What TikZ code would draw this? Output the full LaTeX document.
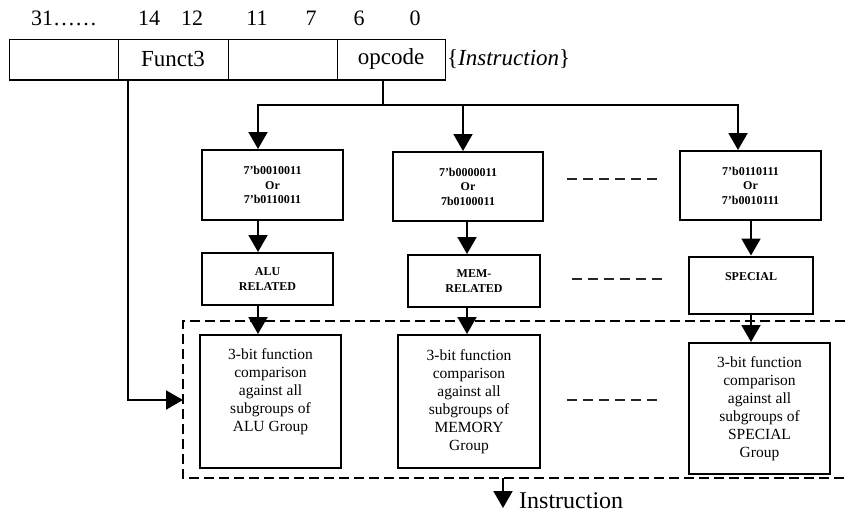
\documentclass[tikz,border=0pt]{standalone}
\usepackage{fontspec}
\setmainfont{Liberation Serif}
\usetikzlibrary{arrows.meta}
\begin{document}
\begin{tikzpicture}[x=1pt,y=-1pt,
  cell/.style={draw, line width=1pt, inner sep=0pt, minimum height=40pt,
    font=\fontsize{23}{27}\selectfont},
  bitlabel/.style={anchor=base, inner sep=0pt, font=\fontsize{22}{26}\selectfont},
  codebox/.style={draw, line width=2pt, inner sep=0pt, align=center,
    font=\fontsize{12}{14.6}\selectfont\bfseries},
  funcbox/.style={draw, line width=2pt, inner sep=0pt, align=center,
    minimum width=141pt, font=\fontsize{15.5}{18}\selectfont},
  wire/.style={line width=2pt},
  conn/.style={line width=2pt, -{Triangle[length=17pt,width=19pt]}},
  sep/.style={line width=1.8pt, draw=black!85, dash pattern=on 10pt off 6pt},
  grp/.style={line width=2pt, dash pattern=on 10pt off 5pt}
]
\useasboundingbox (0,0) rectangle (845,514);

% bit positions
\node[bitlabel] (b31) at (64,25) {31……};
\node[bitlabel] (b14) at (149,25) {14};
\node[bitlabel] (b12) at (192,25) {12};
\node[bitlabel] (b11) at (257,25) {11};
\node[bitlabel] (b7)  at (311,25) {7};
\node[bitlabel] (b6)  at (359,25) {6};
\node[bitlabel] (b0)  at (415,25) {0};

% instruction word
\node[cell, minimum width=109pt] (c31) at (63.5,59) {};
\node[cell, minimum width=110pt] (cf3) at (173,59) {Funct3};
\node[cell, minimum width=109pt] (c117) at (282.5,59) {};
\node[cell, minimum width=108pt] (cop) at (391,59) {opcode};
\draw[line width=2pt] (c31.south west) -- (cop.south east);
\node[anchor=west, inner sep=0pt, font=\fontsize{23}{27}\selectfont]
  (instr) at (447,59) {\{\textit{Instruction}\}};

% opcode match boxes
\node[codebox, minimum width=141pt, minimum height=70pt] (a1) at (272.5,185)
  {7’b0010011\\Or\\7’b0110011};
\node[codebox, minimum width=150pt, minimum height=69pt] (b1) at (468,186.5)
  {7’b0000011\\Or\\7b0100011};
\node[codebox, minimum width=141pt, minimum height=69pt] (c1) at (750.5,185.5)
  {7’b0110111\\Or\\7’b0010111};

% instruction groups
\node[codebox, minimum width=131pt, minimum height=52pt] (a2) at (267.5,279)
  {ALU\\RELATED};
\node[codebox, minimum width=132pt, minimum height=52pt] (b2) at (474,281)
  {MEM-\\RELATED};
\node[codebox, minimum width=124pt, minimum height=57pt] (c2) at (751,285)
  {SPECIAL\\[-3pt] \strut};

% funct3 comparison boxes
\node[funcbox, minimum height=133pt] (a3) at (270.5,401.5)
  {3-bit function\\comparison\\against all\\subgroups of\\ALU Group\\ \strut};
\node[funcbox, minimum width=142pt, minimum height=133pt] (b3) at (469,401.5)
  {3-bit function\\comparison\\against all\\subgroups of\\MEMORY\\Group};
\node[funcbox, minimum height=131pt] (c3) at (759.5,408.5)
  {3-bit function\\comparison\\against all\\subgroups of\\SPECIAL\\Group};

% column positions of the vertical connectors
\coordinate (ax) at (258,0);
\coordinate (bx1) at (463,0);
\coordinate (bx) at (467,0);
\coordinate (cx1) at (738,0);
\coordinate (cx) at (751,0);

% opcode fan-out
\coordinate (opout) at (383,79);
\coordinate (br) at (383,105);
\draw[wire] (opout) -- (br);
\draw[conn] (br) -| (a1.north -| ax);
\draw[conn] (br) -| (b1.north -| bx1);
\draw[conn] (br) -| (c1.north -| cx1);

% group selection
\draw[conn] (a1.south -| ax) -- (a2.north -| ax);
\draw[conn] (b1.south -| bx) -- (b2.north -| bx);
\draw[conn] (c1.south -| cx) -- (c2.north -| cx);
\draw[conn] (a2.south -| ax) -- (a3.north -| ax);
\draw[conn] (b2.south -| bx) -- (b3.north -| bx);
\draw[conn] (c2.south -| cx) -- (c3.north -| cx);

% elided columns
\draw[sep] (567,179) -- (660,179);
\draw[sep] (572,279) -- (665,279);
\draw[sep] (567,400) -- (660,400);

% comparison stage boundary
\coordinate (gtr) at (845,321);
\coordinate (gtl) at (183,321);
\coordinate (gbl) at (183,478);
\coordinate (gbr) at (845,478);
\draw[grp] (gtr) -- (gtl) -- (gbl) -- (gbr);

% funct3 feed
\coordinate (f3out) at (128,79);
\coordinate (grpin) at (183,400);
\draw[conn] (f3out) |- (grpin);

% decoded output
\coordinate (outtop) at (503,478);
\coordinate (outtip) at (503,508);
\draw[conn] (outtop) -- (outtip);
\node[anchor=base west, inner sep=0pt, font=\fontsize{24}{28}\selectfont]
  (outlbl) at (519,508) {Instruction};
\end{tikzpicture}
\end{document}
